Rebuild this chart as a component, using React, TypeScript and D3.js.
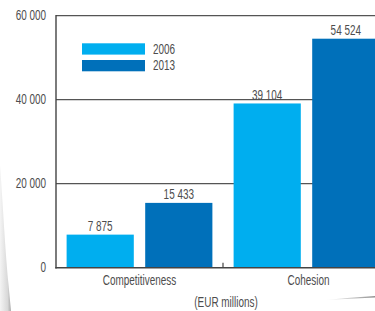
import React, { useRef, useEffect } from "react";
import * as d3 from "d3";

const categories = ["Competitiveness", "Cohesion"];
const seriesNames = ["2006", "2013"];
const values2006 = [7875, 39104];
const values2013 = [15433, 54524];
const yTicks = [0, 20000, 40000, 60000];
const axisTitle = "(EUR millions)";

const colors = ["#00aeef", "#0070ba"];
const font = "'Liberation Sans', Arial, sans-serif";
const textColor = "#4d4d4d";
const squeeze = 0.71; // narrow the glyphs to mimic a condensed face

const fmt = (v: number) => d3.format(",")(v).replace(/,/g, " ");

const App = () => {
  const ref = useRef<SVGSVGElement>(null);

  useEffect(() => {
    const width = 375;
    const height = 311;
    const svg = d3.select(ref.current).attr("width", width).attr("height", height);
    svg.selectAll("*").remove();

    const label = (parent: any, x: number, yy: number, txt: string, anchor = "start") =>
      parent.append("text")
        .attr("transform", `translate(${x},${yy}) scale(${squeeze},1)`)
        .attr("text-anchor", anchor)
        .attr("font-family", font).attr("font-size", 14)
        .attr("fill", textColor)
        .text(txt);

    // background decoration (page curl shading)
    const defs = svg.append("defs");
    const g1 = defs.append("linearGradient").attr("id", "curl").attr("x1", "0").attr("x2", "1");
    g1.append("stop").attr("offset", "0").attr("stop-color", "#f4f4f4");
    g1.append("stop").attr("offset", "0.7").attr("stop-color", "#d8d8d8");
    g1.append("stop").attr("offset", "1").attr("stop-color", "#a8a8a8");
    svg.append("path")
      .attr("d", "M0,165 C3,205 5,250 9,290 L11,311 L0,311 Z")
      .attr("fill", "url(#curl)");
    const g2 = defs.append("linearGradient").attr("id", "edge").attr("x1", "0").attr("x2", "1");
    g2.append("stop").attr("offset", "0").attr("stop-color", "#ffffff");
    g2.append("stop").attr("offset", "1").attr("stop-color", "#909090");
    svg.append("path")
      .attr("d", "M325,300 Q350,297.5 375,296 L375,297.6 Q350,299 325,300 Z")
      .attr("fill", "url(#edge)");

    const x0 = d3.scaleBand().domain(categories).range([56, 390]).padding(0);
    const x1 = d3.scaleBand().domain(seriesNames).range([0, x0.bandwidth()])
      .paddingInner(0.145).paddingOuter(0.135);
    const y = d3.scaleLinear().domain([0, 60000]).range([267.7, 15.7]);

    // gridlines
    svg.append("g").selectAll("line")
      .data(yTicks.filter((d) => d > 0))
      .join("line")
      .attr("x1", 56).attr("x2", width)
      .attr("y1", (d) => y(d)).attr("y2", (d) => y(d))
      .attr("stroke", "#555").attr("stroke-width", 1.3);

    // y tick labels
    const yl = svg.append("g");
    yTicks.forEach((t) => label(yl, 46, y(t) + 4.5, fmt(t), "end"));

    const series = [values2006, values2013];
    const bars = svg.append("g");
    categories.forEach((c, ci) => {
      seriesNames.forEach((s, si) => {
        const v = series[si][ci];
        const bx = x0(c)! + x1(s)!;
        bars.append("rect")
          .attr("x", bx).attr("y", y(v))
          .attr("width", x1.bandwidth()).attr("height", y(0) - y(v))
          .attr("fill", colors[si]);
        label(bars, bx + x1.bandwidth() / 2, y(v) - 3.5, fmt(v), "middle");
      });
    });

    // axes
    svg.append("line")
      .attr("x1", 56).attr("x2", 56).attr("y1", 15).attr("y2", y(0) + 0.7)
      .attr("stroke", "#444").attr("stroke-width", 1.4);
    svg.append("line")
      .attr("x1", 55.3).attr("x2", width).attr("y1", y(0)).attr("y2", y(0))
      .attr("stroke", "#444").attr("stroke-width", 1.4);
    svg.append("line")
      .attr("x1", x0(categories[1])!).attr("x2", x0(categories[1])!)
      .attr("y1", y(0)).attr("y2", y(0) - 5)
      .attr("stroke", "#444").attr("stroke-width", 1.2);

    // category labels
    const cl = svg.append("g");
    categories.forEach((c) =>
      label(cl, x0(c)! + x0.bandwidth() / 2 + (c === "Cohesion" ? 2 : 0), 285, c, "middle"));

    label(svg, 226, 306.5, axisTitle, "middle");

    // legend
    const legend = svg.append("g");
    seriesNames.forEach((s, i) => {
      legend.append("rect")
        .attr("x", 82).attr("y", 43.3 + i * 16.7)
        .attr("width", 63).attr("height", 11.3)
        .attr("fill", colors[i]);
      label(legend, 153, 53.5 + i * 16.7, s);
    });
  }, []);

  return (
    <svg ref={ref} style={{ position: "absolute", left: 0, top: 0, background: "#fff" }} />
  );
};

export default App;
